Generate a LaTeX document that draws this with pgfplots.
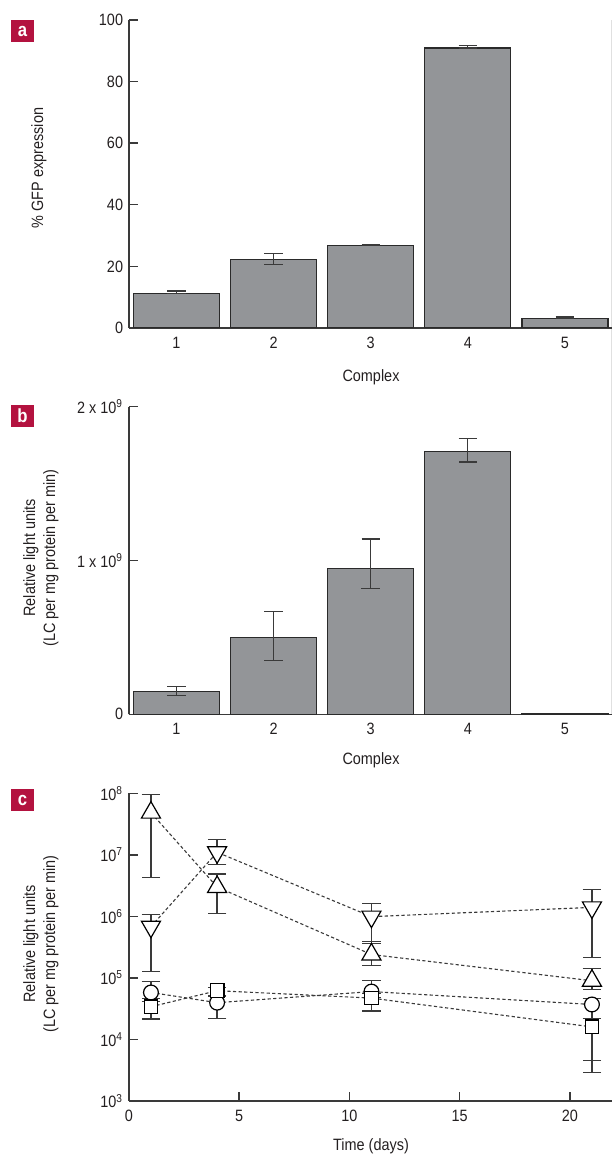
\documentclass[border=0pt]{standalone}
\usepackage{fontspec}
\setmainfont{Liberation Sans}[FakeStretch=0.88]
\usepackage{pgfplots}
\usepackage{pgfplotstable}
\pgfplotsset{compat=1.18}
\definecolor{barfill}{HTML}{939598}
\definecolor{baredge}{HTML}{2A2A2A}
\definecolor{axiscol}{HTML}{3A3A3A}
\definecolor{errcol}{HTML}{3A3A3A}
\definecolor{textcol}{HTML}{231F20}
\definecolor{badge}{HTML}{B3123F}

\pgfplotstableread{
x y ep em
1 11.1 0.9 0
2 22.3 1.8 1.8
3 26.7 0.4 0
4 90.9 0.8 0
5 3.1 0.5 0
}\dataA

\pgfplotstableread{
x y ep em
1 0.150 0.030 0.026
2 0.498 0.172 0.149
3 0.949 0.191 0.130
4 1.710 0.084 0.070
}\dataB

\pgfplotstableread{
x y
5 0.006
}\dataBfive

\pgfplotstableread{
x y ep em
1 4.85e7 4.65e7 4.42e7
4 3.0e6 1.9e6 1.9e6
11 2.4e5 1.5e5 0.8e5
21 9.0e4 5.3e4 2.5e4
}\tup

\pgfplotstableread{
x y ep em
1 6.8e5 3.9e5 5.53e5
4 1.1e7 6.7e6 4.0e6
11 9.9e5 6.4e5 6.3e5
21 1.4e6 1.3e6 1.184e6
}\tdown

\pgfplotstableread{
x y ep em
1 5.8e4 2.9e4 1.2e4
4 3.96e4 1.0e4 1.76e4
11 6.0e4 3.1e4 1.2e4
21 3.7e4 0.9e4 3.24e4
}\tcirc

\pgfplotstableread{
x y ep em
1 3.4e4 0.8e4 1.25e4
4 6.2e4 0.8e4 1.0e4
11 4.7e4 0.8e4 1.8e4
21 1.6e4 0.6e4 1.31e4
}\tsq

\pgfplotsset{
  common/.style={
    scale only axis, anchor=south west, width=241.55pt,
    axis x line*=bottom, axis y line*=left,
    axis line style={-, draw=axiscol, line width=0.7pt},
    tick align=inside, major tick length=4.5pt,
    every tick/.style={draw=axiscol, line width=0.7pt},
    minor tick length=0pt,
    /pgf/number format/assume math mode=true,
    ticklabel style={text=textcol},
    xticklabel style={yshift=-1.5pt},
  },
  barerr/.style={
    error bars/.cd, y dir=both, y explicit,
    error bar style={draw=errcol, line width=0.6pt, solid},
    error mark options={rotate=90, draw=errcol, line width=0.6pt, mark size=4.6pt, solid},
  },
  dline/.style={draw=axiscol, line width=0.55pt, dash pattern=on 1.6pt off 1.2pt, mark=none, barerr},
}

\begin{document}
\fontsize{8.2pt}{10pt}\selectfont
\begin{tikzpicture}
\path[use as bounding box] (0,0) rectangle (306pt,578pt);
\draw[black!12, line width=0.4pt] (305.6pt,568pt) -- (305.6pt,221pt);

% ---------- panel a ----------
\begin{axis}[common, at={(64.45pt,414pt)}, height=154pt,
  xmin=0.51, xmax=5.485, ymin=0, ymax=100,
  xtick={1,2,3,4,5}, x tick style={draw=none},
  ytick={0,20,40,60,80,100}]
\addplot[ybar, bar width=43pt, fill=barfill, draw=baredge, line width=0.6pt, barerr]
  table[x=x, y=y, y error plus=ep, y error minus=em] {\dataA};
\end{axis}

% ---------- panel b ----------
\begin{axis}[common, at={(64.45pt,220.85pt)}, height=153.8pt,
  xmin=0.51, xmax=5.485, ymin=0, ymax=2,
  xtick={1,2,3,4,5}, x tick style={draw=none},
  ytick={0,1,2}, yticklabels={0, 1 x 10\textsuperscript{9}, 2 x 10\textsuperscript{9}}]
\addplot[ybar, bar width=43pt, fill=barfill, draw=baredge, line width=0.6pt, barerr]
  table[x=x, y=y, y error plus=ep, y error minus=em] {\dataB};
\addplot[ybar, bar width=43pt, fill=barfill, draw=baredge, line width=0.6pt]
  table[x=x, y=y] {\dataBfive};
\end{axis}

% ---------- panel c ----------
\begin{axis}[common, at={(64.45pt,27.5pt)}, height=153.85pt,
  ymode=log, xmin=0, xmax=21.91, ymin=1e3, ymax=1e8,
  xtick={0,5,10,15,20},
  ytick={1e3,1e4,1e5,1e6,1e7,1e8},
  yticklabels={10\textsuperscript{3},10\textsuperscript{4},10\textsuperscript{5},10\textsuperscript{6},10\textsuperscript{7},10\textsuperscript{8}},
  clip=false]
\addplot[dline] table[x=x, y=y, y error plus=ep, y error minus=em] {\tup};
\addplot[dline] table[x=x, y=y, y error plus=ep, y error minus=em] {\tdown};
\addplot[dline] table[x=x, y=y, y error plus=ep, y error minus=em] {\tcirc};
\addplot[dline] table[x=x, y=y, y error plus=ep, y error minus=em] {\tsq};
% markers
\addplot[only marks, mark=triangle*, mark size=5.5pt, mark options={fill=white, draw=black, line width=0.6pt}]
  table[x=x, y=y] {\tup};
\addplot[only marks, mark=triangle*, mark size=5.5pt, mark options={fill=white, draw=black, line width=0.6pt, rotate=180}]
  table[x=x, y=y] {\tdown};
\addplot[only marks, mark=*, mark size=3.7pt, mark options={fill=white, draw=black, line width=0.6pt}]
  table[x=x, y=y] {\tcirc};
\addplot[only marks, mark=square*, mark size=3.4pt, mark options={fill=white, draw=black, line width=0.6pt}]
  table[x=x, y=y] {\tsq};
\end{axis}

% ---------- labels ----------
\begin{scope}[every node/.style={text=textcol, inner sep=0pt}]
\node[rotate=90] at (19.5pt,494pt) {\% GFP expression};
\node[rotate=90, align=center] at (20.5pt,299pt) {Relative light units\\(LC per mg protein per min)};
\node[rotate=90, align=center] at (20.5pt,106pt) {Relative light units\\(LC per mg protein per min)};
\node at (185.5pt,389.5pt) {Complex};
\node at (185.5pt,198pt) {Complex};
\node at (185.5pt,5pt) {Time (days)};
\end{scope}

% badges
\fill[badge] (5.5pt,568pt) rectangle ++(11.5pt,-11.2pt);
\node[text=white, inner sep=0pt, font=\fontsize{9.5pt}{10pt}\selectfont\bfseries] at (11.25pt,562.4pt) {a};
\fill[badge] (5.5pt,375.5pt) rectangle ++(11.5pt,-11.2pt);
\node[text=white, inner sep=0pt, font=\fontsize{9.5pt}{10pt}\selectfont\bfseries] at (11.25pt,369.9pt) {b};
\fill[badge] (5.5pt,183.5pt) rectangle ++(11.5pt,-11.2pt);
\node[text=white, inner sep=0pt, font=\fontsize{9.5pt}{10pt}\selectfont\bfseries] at (11.25pt,177.9pt) {c};
\end{tikzpicture}
\end{document}
